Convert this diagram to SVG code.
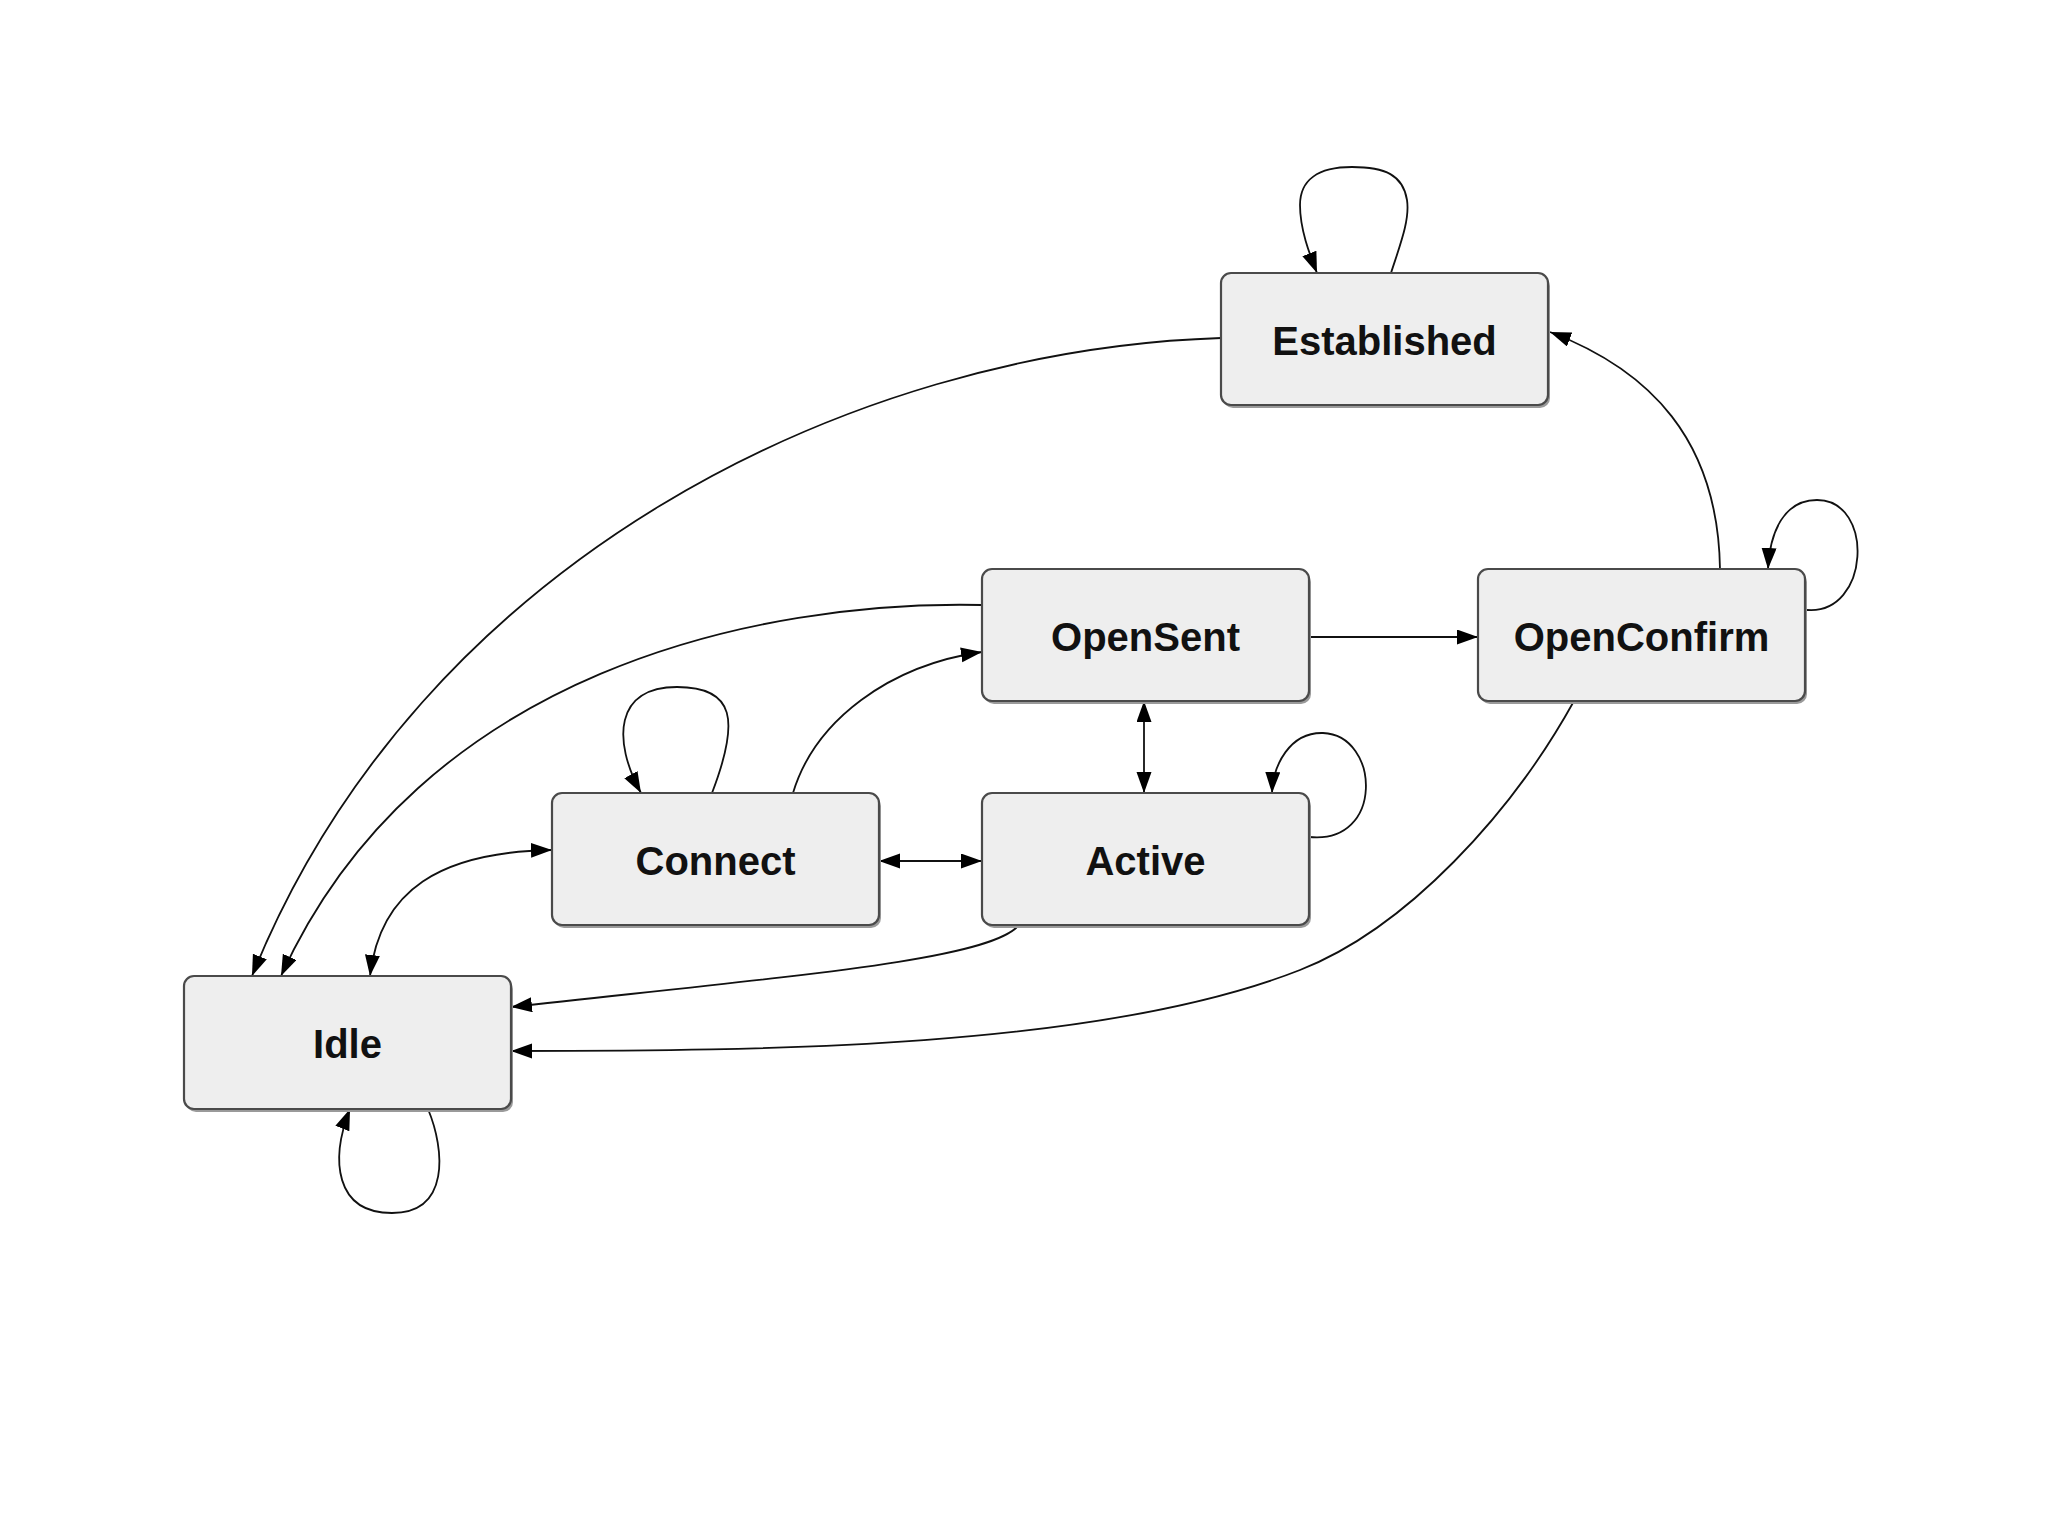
<svg xmlns="http://www.w3.org/2000/svg" width="2048" height="1536" viewBox="0 0 2048 1536">
<style>
.box{fill:#eeeeee;stroke:#4a4a4a;stroke-width:2.2}
.sh{fill:#9a9a9a}
.lbl{font-family:"Liberation Sans",Arial,sans-serif;font-weight:bold;font-size:40px;fill:#111;text-anchor:middle}
.e{fill:none;stroke:#111;stroke-width:1.8}
</style>
<defs>
<marker id="ah" markerUnits="userSpaceOnUse" markerWidth="22" markerHeight="16" refX="21" refY="7.5" orient="auto-start-reverse" viewBox="0 0 22 16">
<path d="M0,0 L21,7.5 L0,15 z" fill="#000"/>
</marker>
</defs>
<rect width="2048" height="1536" fill="#fff"/>
<g id="connectors">
<path class="e" d="M1391,273 C1400,245 1410,220 1407,200 C1403,175 1385,167 1352,167 C1318,167 1300,180 1300,205 C1300,230 1310,255 1317,273" marker-end="url(#ah)"/>
<path class="e" d="M1221,338 C850,350 420,560 252,976" marker-end="url(#ah)"/>
<path class="e" d="M982,605 C760,600 420,670 281,976" marker-end="url(#ah)"/>
<path class="e" d="M370,976 C380,890 440,852 552,850" marker-start="url(#ah)" marker-end="url(#ah)"/>
<path class="e" d="M712,793 C740,720 735,687 677,687 C615,687 612,740 641,793" marker-end="url(#ah)"/>
<path class="e" d="M793,793 C815,720 890,665 982,652" marker-end="url(#ah)"/>
<path class="e" d="M879,861 L982,861" marker-start="url(#ah)" marker-end="url(#ah)"/>
<path class="e" d="M1144,701 L1144,793" marker-start="url(#ah)" marker-end="url(#ah)"/>
<path class="e" d="M1309,837 C1385,845 1380,735 1323,733 C1290,732 1273,765 1272,793" marker-end="url(#ah)"/>
<path class="e" d="M1019,925 C990,960 800,975 511,1007" marker-end="url(#ah)"/>
<path class="e" d="M1574,701 C1512,813 1407,928 1300,970 C1099,1049 761,1051 511,1051" marker-end="url(#ah)"/>
<path class="e" d="M1309,637 L1478,637" marker-end="url(#ah)"/>
<path class="e" d="M1720,569 C1718,440 1650,370 1550,332" marker-end="url(#ah)"/>
<path class="e" d="M1807,610 C1870,615 1875,500 1817,500 C1785,500 1770,530 1768,569" marker-end="url(#ah)"/>
<path class="e" d="M428,1109 C445,1150 450,1213 392,1213 C335,1213 330,1160 350,1109" marker-end="url(#ah)"/>
</g>
<g id="established">
<rect class="sh" x="1223" y="276" width="327" height="132" rx="10"/>
<rect class="box" x="1221" y="273" width="327" height="132" rx="10"/>
<text class="lbl" x="1384.5" y="354.5">Established</text>
</g>
<g id="opensent">
<rect class="sh" x="984" y="572" width="327" height="132" rx="10"/>
<rect class="box" x="982" y="569" width="327" height="132" rx="10"/>
<text class="lbl" x="1145.5" y="650.5">OpenSent</text>
</g>
<g id="openconfirm">
<rect class="sh" x="1480" y="572" width="327" height="132" rx="10"/>
<rect class="box" x="1478" y="569" width="327" height="132" rx="10"/>
<text class="lbl" x="1641.5" y="650.5">OpenConfirm</text>
</g>
<g id="connect">
<rect class="sh" x="554" y="796" width="327" height="132" rx="10"/>
<rect class="box" x="552" y="793" width="327" height="132" rx="10"/>
<text class="lbl" x="715.5" y="874.5">Connect</text>
</g>
<g id="active">
<rect class="sh" x="984" y="796" width="327" height="132" rx="10"/>
<rect class="box" x="982" y="793" width="327" height="132" rx="10"/>
<text class="lbl" x="1145.5" y="874.5">Active</text>
</g>
<g id="idle">
<rect class="sh" x="186" y="979" width="327" height="133" rx="10"/>
<rect class="box" x="184" y="976" width="327" height="133" rx="10"/>
<text class="lbl" x="347.5" y="1058">Idle</text>
</g>
</svg>
